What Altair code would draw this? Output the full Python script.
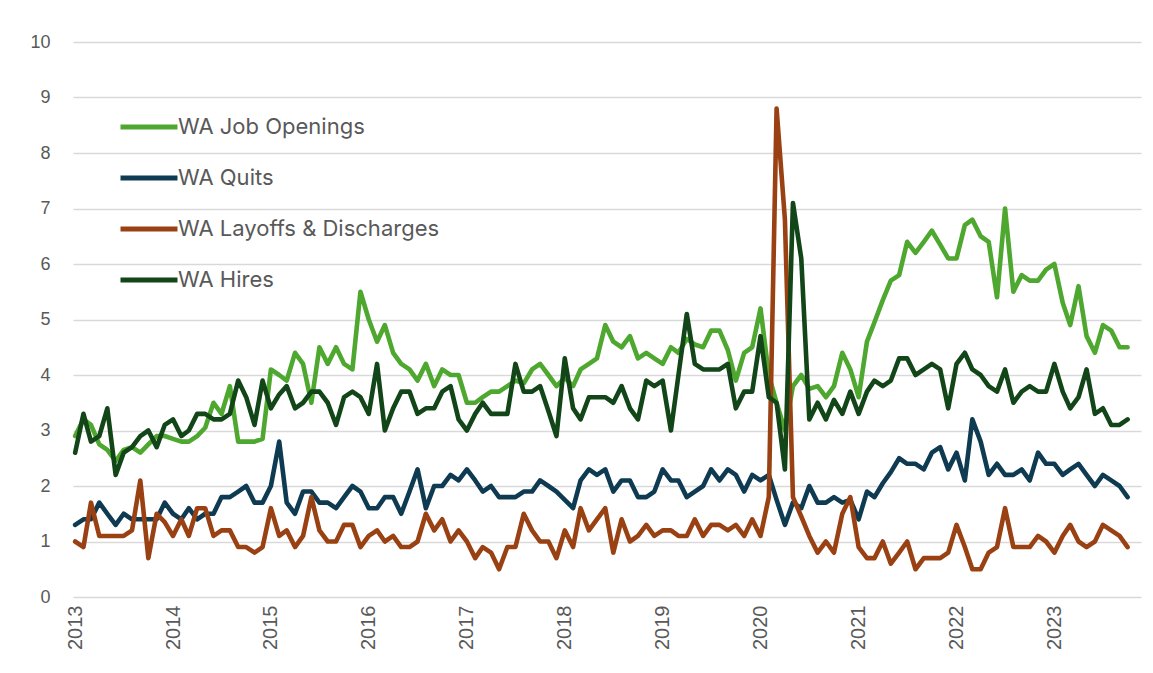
import altair as alt
import pandas as pd

# Monthly observations, Jan 2013 - Oct 2023
months = pd.date_range("2013-01-01", periods=130, freq="MS").strftime("%Y-%m-%d").tolist()

job_openings = [
    2.9, 3.2, 3.1, 2.75, 2.65, 2.45, 2.65, 2.7, 2.6, 2.75, 2.9, 2.9,
    2.85, 2.8, 2.8, 2.9, 3.05, 3.5, 3.3, 3.8, 2.8, 2.8, 2.8, 2.85,
    4.1, 4.0, 3.9, 4.4, 4.2, 3.5, 4.5, 4.2, 4.5, 4.2, 4.1, 5.5,
    5.0, 4.6, 4.9, 4.4, 4.2, 4.1, 3.9, 4.2, 3.8, 4.1, 4.0, 4.0,
    3.5, 3.5, 3.6, 3.7, 3.7, 3.8, 3.9, 3.85, 4.1, 4.2, 4.0, 3.8,
    3.95, 3.8, 4.1, 4.2, 4.3, 4.9, 4.6, 4.5, 4.7, 4.3, 4.4, 4.3,
    4.2, 4.5, 4.4, 4.65, 4.55, 4.5, 4.8, 4.8, 4.45, 3.9, 4.4, 4.5,
    5.2, 4.0, 3.5, 3.0, 3.8, 4.0, 3.75, 3.8, 3.6, 3.8, 4.4, 4.1,
    3.6, 4.6, 4.95, 5.35, 5.7, 5.8, 6.4, 6.2, 6.4, 6.6, 6.35, 6.1,
    6.1, 6.7, 6.8, 6.5, 6.4, 5.4, 7.0, 5.5, 5.8, 5.7, 5.7, 5.9,
    6.0, 5.3, 4.9, 5.6, 4.7, 4.4, 4.9, 4.8, 4.5, 4.5,
]
quits = [
    1.3, 1.4, 1.4, 1.7, 1.5, 1.3, 1.5, 1.4, 1.4, 1.4, 1.4, 1.7,
    1.5, 1.4, 1.6, 1.4, 1.5, 1.5, 1.8, 1.8, 1.9, 2.0, 1.7, 1.7,
    2.0, 2.8, 1.7, 1.5, 1.9, 1.9, 1.7, 1.7, 1.6, 1.8, 2.0, 1.9,
    1.6, 1.6, 1.8, 1.8, 1.5, 1.9, 2.3, 1.6, 2.0, 2.0, 2.2, 2.1,
    2.3, 2.1, 1.9, 2.0, 1.8, 1.8, 1.8, 1.9, 1.9, 2.1, 2.0, 1.9,
    1.75, 1.6, 2.1, 2.3, 2.2, 2.3, 1.9, 2.1, 2.1, 1.8, 1.8, 1.9,
    2.3, 2.1, 2.1, 1.8, 1.9, 2.0, 2.3, 2.1, 2.3, 2.2, 1.9, 2.2,
    2.1, 2.2, 1.75, 1.3, 1.7, 1.6, 2.0, 1.7, 1.7, 1.8, 1.7, 1.75,
    1.4, 1.9, 1.8, 2.05, 2.25, 2.5, 2.4, 2.4, 2.3, 2.6, 2.7, 2.3,
    2.6, 2.1, 3.2, 2.8, 2.2, 2.4, 2.2, 2.2, 2.3, 2.1, 2.6, 2.4,
    2.4, 2.2, 2.3, 2.4, 2.2, 2.0, 2.2, 2.1, 2.0, 1.8,
]
layoffs = [
    1.0, 0.9, 1.7, 1.1, 1.1, 1.1, 1.1, 1.2, 2.1, 0.7, 1.5, 1.35,
    1.1, 1.4, 1.1, 1.6, 1.6, 1.1, 1.2, 1.2, 0.9, 0.9, 0.8, 0.9,
    1.6, 1.1, 1.2, 0.9, 1.1, 1.8, 1.2, 1.0, 1.0, 1.3, 1.3, 0.9,
    1.1, 1.2, 1.0, 1.1, 0.9, 0.9, 1.0, 1.5, 1.2, 1.4, 1.0, 1.2,
    1.0, 0.7, 0.9, 0.8, 0.5, 0.9, 0.9, 1.5, 1.2, 1.0, 1.0, 0.7,
    1.2, 0.9, 1.6, 1.2, 1.4, 1.6, 0.8, 1.4, 1.0, 1.1, 1.3, 1.1,
    1.2, 1.2, 1.1, 1.1, 1.4, 1.1, 1.3, 1.3, 1.2, 1.3, 1.1, 1.4,
    1.1, 1.8, 8.8, 6.8, 1.8, 1.45, 1.1, 0.8, 1.0, 0.8, 1.5, 1.8,
    0.9, 0.7, 0.7, 1.0, 0.6, 0.8, 1.0, 0.5, 0.7, 0.7, 0.7, 0.8,
    1.3, 0.9, 0.5, 0.5, 0.8, 0.9, 1.6, 0.9, 0.9, 0.9, 1.1, 1.0,
    0.8, 1.1, 1.3, 1.0, 0.9, 1.0, 1.3, 1.2, 1.1, 0.9,
]
hires = [
    2.6, 3.3, 2.8, 2.9, 3.4, 2.2, 2.6, 2.7, 2.9, 3.0, 2.7, 3.1,
    3.2, 2.9, 3.0, 3.3, 3.3, 3.2, 3.2, 3.3, 3.9, 3.6, 3.1, 3.9,
    3.4, 3.65, 3.8, 3.4, 3.5, 3.7, 3.7, 3.5, 3.1, 3.6, 3.7, 3.6,
    3.3, 4.2, 3.0, 3.4, 3.7, 3.7, 3.3, 3.4, 3.4, 3.7, 3.8, 3.2,
    3.0, 3.3, 3.5, 3.3, 3.3, 3.3, 4.2, 3.7, 3.7, 3.8, 3.35, 2.9,
    4.3, 3.4, 3.2, 3.6, 3.6, 3.6, 3.5, 3.8, 3.4, 3.2, 3.9, 3.8,
    3.9, 3.0, 4.0, 5.1, 4.2, 4.1, 4.1, 4.1, 4.2, 3.4, 3.7, 3.7,
    4.7, 3.6, 3.5, 2.3, 7.1, 6.1, 3.2, 3.5, 3.2, 3.55, 3.3, 3.7,
    3.3, 3.7, 3.9, 3.8, 3.9, 4.3, 4.3, 4.0, 4.1, 4.2, 4.1, 3.4,
    4.2, 4.4, 4.1, 4.0, 3.8, 3.7, 4.1, 3.5, 3.7, 3.8, 3.7, 3.7,
    4.2, 3.7, 3.4, 3.6, 4.1, 3.3, 3.4, 3.1, 3.1, 3.2,
]

series_names = ["WA Job Openings", "WA Quits", "WA Layoffs & Discharges", "WA Hires"]
series_colors = ["#4EA72E", "#0E3A52", "#9A4113", "#124517"]
y_ticks = [0, 1, 2, 3, 4, 5, 6, 7, 8, 9, 10]

rows = []
for name, vals in zip(series_names, [job_openings, quits, layoffs, hires]):
    for d, v in zip(months, vals):
        rows.append({"date": d, "series": name, "value": v})
df = pd.DataFrame(rows)

text_color = "#595959"

x_enc = alt.X(
    "date:T",
    scale=alt.Scale(domain=["2012-12-24", "2023-11-20"]),
    axis=alt.Axis(
        format="%Y",
        tickCount="year",
        labelAngle=270,
        labelFont="Liberation Sans",
        labelFontSize=20,
        labelColor=text_color,
        labelPadding=8,
        grid=False,
        domain=False,
        ticks=False,
        title=None,
    ),
)
y_enc = alt.Y(
    "value:Q",
    scale=alt.Scale(domain=[0, 10]),
    axis=alt.Axis(
        values=y_ticks,
        labelFont="Liberation Sans",
        labelFontSize=18,
        labelColor=text_color,
        labelPadding=23,
        grid=True,
        gridColor="#D9D9D9",
        gridWidth=1.3,
        domain=False,
        ticks=False,
        title=None,
    ),
)
color_enc = alt.Color(
    "series:N",
    scale=alt.Scale(domain=series_names, range=series_colors),
    title=None,
    legend=alt.Legend(
        orient="none",
        legendX=59,
        legendY=68,
        symbolType="M-2,0H2",
        symbolSize=812,
        symbolStrokeWidth=5,
        labelFont="Inter",
        labelFontSize=22,
        labelColor=text_color,
        labelOffset=12,
        labelLimit=500,
        rowPadding=23,
        padding=0,
    ),
)

base = alt.Chart(df).encode(x=x_enc, y=y_enc, color=color_enc)
layers = [
    base.transform_filter(alt.datum.series == name).mark_line(
        strokeWidth=4.6, strokeJoin="round", strokeCap="round"
    )
    for name in series_names
]

chart = (
    alt.layer(*layers)
    .properties(
        width=1068,
        height=555,
        padding={"left": 65, "top": 34, "right": 4, "bottom": 68},
        autosize="none",
    )
    .configure_view(stroke=None)
)

chart.save("out.html", embed_options={"renderer": "svg", "actions": False})
